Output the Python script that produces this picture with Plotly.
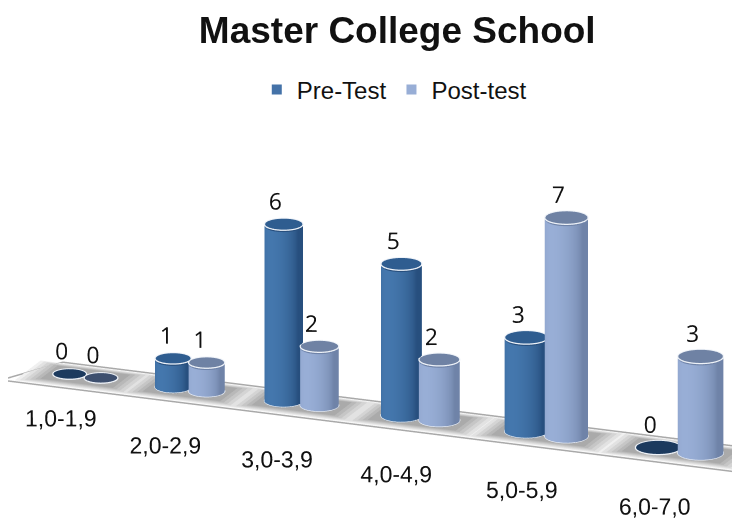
import numpy as np
import plotly.graph_objs as go

categories = ['1,0-1,9', '2,0-2,9', '3,0-3,9', '4,0-4,9', '5,0-5,9', '6,0-7,0']
pre_test = [0, 1, 6, 5, 3, 0]
post_test = [0, 1, 2, 2, 7, 3]

PRE_SCALE = [[0, '#274f7e'], [1, '#4477ad']]
POST_SCALE = [[0, '#6f83a8'], [1, '#98aed6']]
PRE_TOP, PRE_ZERO = '#2f5d90', '#1c3a5e'
POST_TOP, POST_ZERO = '#6f82a4', '#3d4f6e'
SHADOW_COLORS = ['#f0f0f0', '#e2e2e2', '#d4d4d4', '#c6c6c6', '#b8b8b8', '#aaaaaa']

RADIUS = 0.155
DEPTH = 0.6
SHEAR = 0.31
XR, YR, ZR = (-0.5, 8.5), (-2.0, 1.0), (0, 9)
Z_UNIT = 0.245
AZ, EL, DIST = np.radians(22), np.radians(18), 2.6
CENTER = dict(x=-0.046 - 0.2455, y=0, z=0.1819)
ASPECT = 0.491

theta = np.linspace(0, 2 * np.pi, 61)

# the original fakes perspective, later groups are drawn bigger
scale = [0.85 + 0.06 * i for i in range(len(categories))]
centers = [0.62]
for i in range(1, len(categories)):
    centers.append(centers[-1] + (scale[i - 1] + scale[i]) / 2)


def cylinder(xc, h, r, colorscale, top_color):
    traces = []
    yc = DEPTH / 2
    if h > 0:
        xs = np.array([xc + r * np.cos(theta)] * 2)
        ys = np.array([yc + r * np.sin(theta)] * 2)
        zs = np.array([np.zeros_like(theta), np.full_like(theta, h)])
        # brightest on the side that faces the camera
        shade = np.clip(np.sin(theta + AZ) * -1, 0, 1) ** 0.7
        traces.append(go.Surface(x=xs, y=ys, z=zs, surfacecolor=np.array([shade, shade]),
                                 cmin=0, cmax=1, colorscale=colorscale, showscale=False,
                                 lighting=dict(ambient=1, diffuse=0, specular=0),
                                 hoverinfo='skip'))
    rr = np.array([0, 1])
    xs = np.outer(rr, r * np.cos(theta)) + xc
    ys = np.outer(rr, r * np.sin(theta)) + yc
    zs = np.full_like(xs, h + 0.05)
    traces.append(go.Surface(x=xs, y=ys, z=zs, surfacecolor=np.zeros_like(xs),
                             cmin=0, cmax=1, colorscale=[[0, top_color], [1, top_color]],
                             showscale=False, lighting=dict(ambient=1, diffuse=0, specular=0),
                             hoverinfo='skip'))
    for level in ([0, h] if h > 0 else [0]):
        traces.append(go.Scatter3d(x=xc + r * np.cos(theta), y=yc + r * np.sin(theta),
                                   z=np.full_like(theta, level + 0.06), mode='lines',
                                   line=dict(color='#eef2f8', width=2.5),
                                   showlegend=False, hoverinfo='skip'))
    return traces


def flat_rect(x0, x1, y0, y1, z, color):
    return go.Mesh3d(x=[x0, x1, x1, x0], y=[y0, y0, y1, y1], z=[z] * 4,
                     i=[0, 0], j=[1, 2], k=[2, 3], color=color,
                     flatshading=True, lighting=dict(ambient=1, diffuse=0, specular=0),
                     hoverinfo='skip')


fig = go.Figure()

# floor
fig.add_trace(go.Scatter3d(x=[8.4, 0.03, SHEAR, 8.4 + SHEAR], y=[0, 0, DEPTH, DEPTH], z=[0] * 4,
                           mode='lines', line=dict(color='#a9a9a9', width=3),
                           showlegend=False, hoverinfo='skip'))

for i in range(len(categories)):
    xc, s = centers[i], scale[i]
    # soft shadow, stacked from the pale outer rim to the dark middle
    for n, color in enumerate(SHADOW_COLORS):
        grow = 0.018 * (len(SHADOW_COLORS) - 1 - n)
        fig.add_trace(flat_rect(xc - 0.36 * s - grow * 2, xc + 0.36 * s + grow * 2,
                                0.12 - grow, DEPTH - 0.12 + grow, 0.006 * (n + 1), color))
    hs = (1 + s) / 2
    dx = RADIUS * s
    for tr in cylinder(xc - dx, pre_test[i] * hs, RADIUS * s, PRE_SCALE, PRE_TOP if pre_test[i] else PRE_ZERO):
        fig.add_trace(tr)
    for tr in cylinder(xc + dx, post_test[i] * hs, RADIUS * s, POST_SCALE, POST_TOP if post_test[i] else POST_ZERO):
        fig.add_trace(tr)

for vals, sign in [(pre_test, -1), (post_test, 1)]:
    fig.add_trace(go.Scatter3d(x=[c + sign * RADIUS * s - 0.07 for c, s in zip(centers, scale)],
                               y=[DEPTH / 2] * 6,
                               z=[v * (1 + s) / 2 + 0.8 for v, s in zip(vals, scale)],
                               mode='text', text=[str(v) for v in vals], textposition='middle center',
                               textfont=dict(family='Open Sans', size=23, color='#111111'),
                               showlegend=False, hoverinfo='skip'))

# first label sits a bit higher than the rest in the original
fig.add_trace(go.Scatter3d(x=[c + 0.66 - (0.13 if i == 0 else 0) for i, c in enumerate(centers)],
                           y=[-1.52 if i == 0 else -1.85 for i in range(6)], z=[0] * 6, mode='text',
                           text=categories,
                           textfont=dict(family='Liberation Sans', size=23, color='#111111'),
                           showlegend=False, hoverinfo='skip'))

# legend entries only
fig.add_trace(go.Scatter3d(x=[None], y=[None], z=[None], mode='markers', name='Pre-Test',
                           marker=dict(symbol='square', size=10, color='#4472a8')))
fig.add_trace(go.Scatter3d(x=[None], y=[None], z=[None], mode='markers', name='Post-test',
                           marker=dict(symbol='square', size=10, color='#98aed6')))

hidden = dict(visible=False)
fig.update_layout(
    width=740, height=522,
    margin=dict(l=0, r=0, t=0, b=0),
    paper_bgcolor='white',
    title=dict(text='<b>Master College School</b>', x=0.526, xanchor='center', y=0.958, yanchor='middle',
               font=dict(family='Liberation Sans', size=37, color='#111111')),
    legend=dict(orientation='h', x=0.522, xanchor='center', y=0.843, yanchor='middle', itemwidth=30,
                font=dict(family='Liberation Sans', size=24, color='#111111')),
    scene=dict(
        domain=dict(x=[0, 1], y=[0, 1]),
        xaxis=dict(range=XR, **hidden),
        yaxis=dict(range=YR, **hidden),
        zaxis=dict(range=ZR, **hidden),
        aspectmode='manual',
        aspectratio=dict(x=ASPECT * (XR[1] - XR[0]), y=ASPECT * (YR[1] - YR[0]),
                         z=ASPECT * (ZR[1] - ZR[0]) * Z_UNIT),
        camera=dict(
            projection=dict(type='orthographic'),
            center=CENTER,
            eye=dict(x=CENTER['x'] + DIST * np.cos(EL) * np.sin(AZ),
                     y=CENTER['y'] - DIST * np.cos(EL) * np.cos(AZ),
                     z=CENTER['z'] + DIST * np.sin(EL)),
        ),
    ),
)

fig.write_html("out.html")
